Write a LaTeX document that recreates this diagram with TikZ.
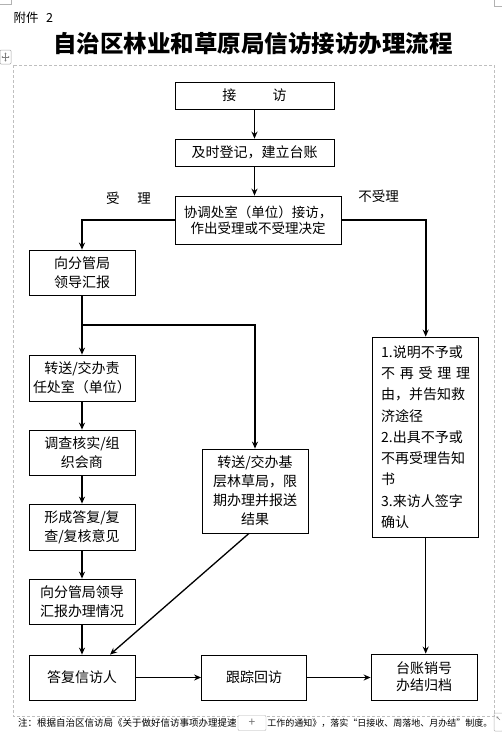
\documentclass[tikz,border=0pt]{standalone}
\usepackage{fontspec}
\setmainfont{Noto Sans CJK SC}
\usetikzlibrary{arrows.meta,calc}

\begin{document}
\begin{tikzpicture}[x=1pt,y=-1pt,
  box/.style={draw, line width=0.8pt, align=center, inner sep=0pt,
    minimum width=106, minimum height=45, font=\fontsize{14}{19}\selectfont},
  link/.style={line width=1.3pt, -{Stealth[length=7pt,width=6pt]}},
  pagemark/.style={draw=black!30, line width=0.6pt},
  tag/.style={font=\fontsize{13.5}{16}\selectfont}]
\useasboundingbox (0,0) rectangle (502,740);

%% page furniture
\draw[pagemark] (0,4) -- (11,4) -- (11,0);
\draw[pagemark] (494,0) -- (494,6) -- (502,6);
\draw[black!25, line width=0.6pt, dash pattern=on 3pt off 2pt] (13,65) rectangle (494,716);
\draw[black!35, line width=0.5pt, rounded corners=1pt] (0,50) rectangle (11,64);
\draw[black!50, line width=0.5pt, <->, >={Stealth[length=1.5pt,width=2pt]}] (1.5,57) -- (9.5,57);
\draw[black!50, line width=0.5pt, <->, >={Stealth[length=1.5pt,width=2pt]}] (5.5,52.5) -- (5.5,61.5);

%% heading
\node[anchor=west, font=\fontsize{12.5}{14}\selectfont] (annex) at (10,18) {附件\hspace{0.6em}2};
\node[font=\fontsize{23.5}{26}\selectfont\bfseries] (title) at (253,44)
  {自治区林业和草原局信访接访办理流程};

%% top of the chart
\node[box, minimum width=159, minimum height=27] (visit) at (254.5,95.5) {接\hspace{2.6em}访};
\node[box, minimum width=159, minimum height=27] (register) at (254.5,152.5) {及时登记，建立台账};
\node[box, minimum width=166, minimum height=48, font=\fontsize{13.5}{16}\selectfont]
  (decide) at (258,220) {协调处室（单位）接访，\\作出受理或不受理决定};
\node[tag] (accept) at (128.5,198) {受\hspace{1.3em}理};
\node[tag] (reject) at (378.5,196) {不受理};

%% accepted: left column
\node[box] (report) at (82,272.5) {向分管局\\领导汇报};
\node[box, minimum height=46] (assign) at (82,378) {转送/交办责\\任处室（单位）};
\node[box] (check) at (82,452.5) {调查核实/组\\织会商};
\node[box, minimum height=46] (opinion) at (82,527) {形成答复/复\\查/复核意见};
\node[box] (brief) at (82,601.5) {向分管局领导\\汇报办理情况};
\node[box, minimum height=84] (grass) at (255,491) {转送/交办基\\层林草局，限\\期办理并报送\\结果};

%% not accepted: right column
\node[box, minimum height=200, text width=89, align=left, inner xsep=8.5pt,
  font=\fontsize{14}{21.3}\selectfont] (refuse) at (425.7,437)
  {1.说明不予或\\不\hfill{}再\hfill{}受\hfill{}理\hfill{}理\\由，并告知救\\济途径\\2.出具不予或\\不再受理告知\\书\\3.来访人签字\\确认};

%% bottom row
\node[box] (reply) at (82,677.5) {答复信访人};
\node[box, minimum width=105] (track) at (254,677.5) {跟踪回访};
\node[box, minimum height=46, font=\fontsize{14}{17}\selectfont] (archive) at (424,677) {台账销号\\办结归档};

%% connectors
\draw[link] (visit) -- (register);
\draw[link] (register.south) -- (register.south |- decide.north);
\draw[link, line width=1.6pt] (decide.west) -| (report.north);
\draw[link, line width=1.6pt] (decide.east) -| (refuse.north);
\coordinate (fork) at ($(report.south)!0.5!(assign.north)$);
\draw[link] (report) -- (assign);
\draw[link, line width=1.6pt] (fork) -| (grass.north);
\draw[link] (assign) -- (check);
\draw[link] (check) -- (opinion);
\draw[link] (opinion) -- (brief);
\draw[link] (brief) -- (reply);
\draw[link] ([xshift=-6pt]grass.south) -- ([xshift=28pt]reply.north);
\draw[link] (refuse.south) -- (refuse.south |- archive.north);
\draw[link] (reply) -- (track);
\draw[link] (track.east) -- (track.east -| archive.west);

%% note under the frame
\node[draw=black!30, fill=white, rounded corners=1pt, minimum width=28, minimum height=15,
  inner sep=0pt, text=black!55, font=\fontsize{12}{12}\selectfont] (plus) at (252,723) {+};
\node[anchor=east, inner sep=0pt, font=\fontsize{9.5}{11}\selectfont] (noteA) at ([xshift=-1pt]plus.west)
  {注：根据自治区信访局《关于做好信访事项办理提速};
\node[anchor=west, inner sep=0pt, font=\fontsize{9}{11}\selectfont] (noteB) at ([xshift=1pt]plus.east)
  {工作的通知》，落实“日接收、周落地、月办结”制度。};
\draw[black!30, line width=0.5pt, rounded corners=1pt] (494,713) rectangle (503,731);
\draw[black!50, line width=0.5pt, -{Stealth[length=2pt,width=2.5pt]}] (500,720) -- (496.5,716.5);
\end{tikzpicture}
\end{document}
